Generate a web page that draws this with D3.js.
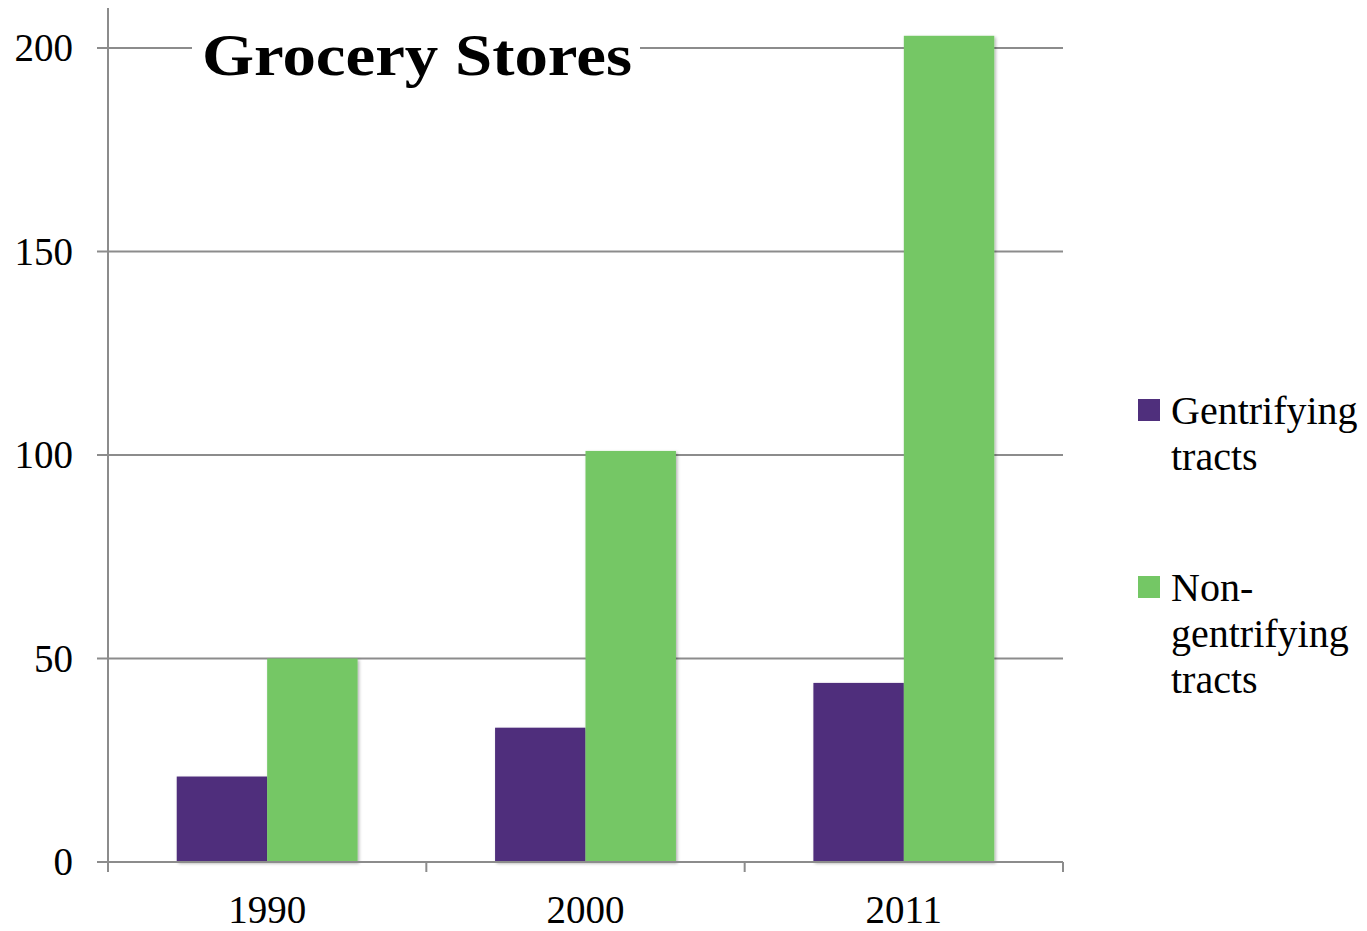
<!DOCTYPE html>
<html>
<head>
<meta charset="utf-8">
<script src="https://cdn.jsdelivr.net/npm/d3@7"></script>
<style>
  body { margin: 0; background: #fff; }
  text { font-family: "Liberation Serif", "Times New Roman", serif; fill: #000; }
</style>
</head>
<body>
<div id="chart_div"></div>
<script>
// data
var years = ['1990', '2000', '2011'];
var seriesNames = ['Gentrifying tracts', 'Non-gentrifying tracts'];
var gentrifying = [21, 33, 44];
var nonGentrifying = [50, 101, 203];
var yTicks = [0, 50, 100, 150, 200];
var seriesColors = ['#4f2f7c', '#74c765'];

var svg_width = 1367,
  svg_height = 931,
  plot_left = 108,
  plot_right = 1063,
  plot_top = 48,
  plot_bottom = 862;

var svg = d3.select('#chart_div')
  .append('svg')
  .attr('width', svg_width)
  .attr('height', svg_height);

var x = d3.scaleBand()
  .domain(years)
  .range([plot_left, plot_right]);

var xInner = d3.scaleBand()
  .domain(seriesNames)
  .range([0, x.bandwidth()])
  .paddingOuter(0.76);

var y = d3.scaleLinear()
  .domain([0, 200])
  .range([plot_bottom, plot_top]);

// drop shadow like the original
var defs = svg.append('defs');
var f = defs.append('filter').attr('id', 'shadow')
  .attr('x', '-10%').attr('y', '-10%').attr('width', '130%').attr('height', '130%');
f.append('feDropShadow')
  .attr('dx', 1.5).attr('dy', 1.5).attr('stdDeviation', 1.5)
  .attr('flood-color', '#000').attr('flood-opacity', 0.3);

// gridlines
svg.append('g')
  .selectAll('line')
  .data(yTicks)
  .enter().append('line')
  .attr('x1', plot_left - 11)
  .attr('x2', plot_right)
  .attr('y1', function (d) { return y(d); })
  .attr('y2', function (d) { return y(d); })
  .attr('stroke', '#8c8c8c')
  .attr('stroke-width', 2);

// y tick labels
svg.append('g')
  .selectAll('text')
  .data(yTicks)
  .enter().append('text')
  .attr('x', 73)
  .attr('y', function (d) { return y(d) + 13; })
  .attr('text-anchor', 'end')
  .style('font-size', '39px')
  .text(function (d) { return d; });

// bars
var rows = years.map(function (yr, i) {
  return { year: yr, values: [gentrifying[i], nonGentrifying[i]] };
});

var groups = svg.append('g')
  .selectAll('g')
  .data(rows)
  .enter().append('g')
  .attr('transform', function (d) { return 'translate(' + x(d.year) + ',0)'; });

groups.selectAll('rect')
  .data(function (d) {
    return d.values.map(function (v, j) { return { name: seriesNames[j], value: v, j: j }; });
  })
  .enter().append('rect')
  .attr('x', function (d) { return xInner(d.name); })
  .attr('width', xInner.bandwidth())
  .attr('y', function (d) { return y(d.value); })
  .attr('height', function (d) { return plot_bottom - y(d.value); })
  .attr('fill', function (d) { return seriesColors[d.j]; })
  .attr('filter', 'url(#shadow)');

// axes lines
svg.append('line')
  .attr('x1', plot_left).attr('x2', plot_left)
  .attr('y1', 8).attr('y2', plot_bottom + 10)
  .attr('stroke', '#8c8c8c').attr('stroke-width', 2);

svg.append('line')
  .attr('x1', plot_left - 11).attr('x2', plot_right)
  .attr('y1', plot_bottom).attr('y2', plot_bottom)
  .attr('stroke', '#8c8c8c').attr('stroke-width', 2);

// x tick marks at band edges
var edges = years.map(function (d) { return x(d); }).concat([plot_right]);
svg.append('g')
  .selectAll('line')
  .data(edges)
  .enter().append('line')
  .attr('x1', function (d) { return d; })
  .attr('x2', function (d) { return d; })
  .attr('y1', plot_bottom)
  .attr('y2', plot_bottom + 10)
  .attr('stroke', '#8c8c8c')
  .attr('stroke-width', 2);

// x labels
svg.append('g')
  .selectAll('text')
  .data(years)
  .enter().append('text')
  .attr('x', function (d) { return x(d) + x.bandwidth() / 2; })
  .attr('y', 923)
  .attr('text-anchor', 'middle')
  .style('font-size', '39px')
  .text(function (d) { return d; });

// title with white box behind, hiding the gridline
svg.append('rect')
  .attr('x', 192).attr('y', 20)
  .attr('width', 448).attr('height', 70)
  .attr('fill', '#fff');

svg.append('text')
  .attr('x', 202)
  .attr('y', 75)
  .attr('textLength', 430)
  .attr('lengthAdjust', 'spacingAndGlyphs')
  .style('font-size', '60px')
  .style('font-weight', 'bold')
  .text('Grocery Stores');

// legend
var legendLines = [['Gentrifying', 'tracts'], ['Non-', 'gentrifying', 'tracts']];
var legendTop = [399, 576];

var legend = svg.append('g').classed('legend', true);
legendLines.forEach(function (lines, i) {
  legend.append('rect')
    .attr('x', 1138)
    .attr('y', legendTop[i])
    .attr('width', 22)
    .attr('height', 22)
    .attr('fill', seriesColors[i]);
  lines.forEach(function (t, k) {
    legend.append('text')
      .attr('x', 1171)
      .attr('y', legendTop[i] + 25 + k * 46)
      .style('font-size', '40px')
      .text(t);
  });
});
</script>
</body>
</html>
